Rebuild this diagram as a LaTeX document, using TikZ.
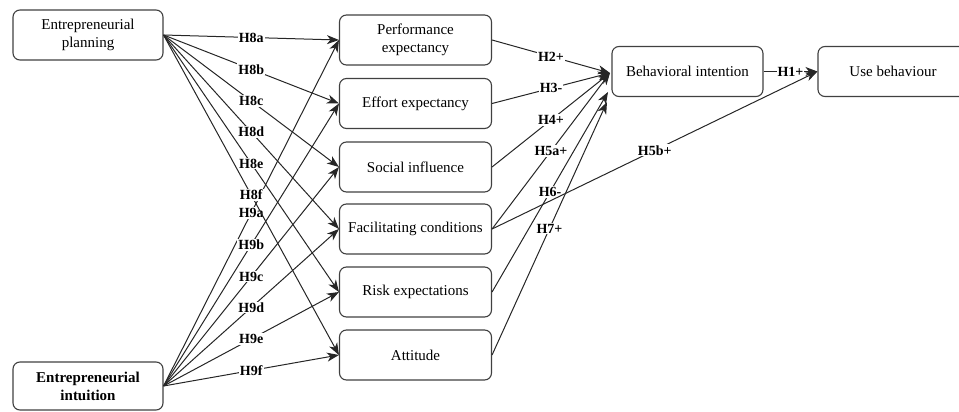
\documentclass[tikz,border=0pt]{standalone}
\usepackage{fontspec}
\setmainfont{Liberation Serif}
\usetikzlibrary{arrows.meta}

\begin{document}
\begin{tikzpicture}[x=1pt, y=-1pt, >={Stealth[length=12pt, width=9pt, inset=3.5pt]},
    construct/.style={draw=black!75, line width=1.1pt, rounded corners=7pt, align=center,
        minimum width=152pt, minimum height=50pt, inner sep=2pt,
        font=\fontsize{15}{18}\selectfont},
    path/.style={->, line width=1pt, draw=black!85},
    hyp/.style={midway, fill=white, inner sep=1pt, font=\fontsize{14}{15}\selectfont\bfseries}]
    \useasboundingbox (0,0) rectangle (959,412);
    % Antecedents
    \node[construct, minimum width=150pt] (plan) at (88,35) {Entrepreneurial\\planning};
    \node[construct, minimum width=150pt, minimum height=48pt, font=\fontsize{15}{18}\selectfont\bfseries] (intu) at (88,386) {Entrepreneurial\\intuition};
    % UTAUT constructs
    \node[construct] (pe) at (415.5,40) {Performance\\expectancy};
    \node[construct] (ee) at (415.5,103.5) {Effort expectancy};
    \node[construct] (si) at (415.5,167) {Social influence};
    \node[construct] (fc) at (415.5,229) {Facilitating conditions};
    \node[construct] (re) at (415.5,292) {Risk expectations};
    \node[construct] (at) at (415.5,355) {Attitude};
    % Outcomes
    \node[construct, minimum width=151pt] (bi) at (687.5,71.5) {Behavioral intention};
    \node[construct, minimum width=150pt] (ub) at (893,71.5) {Use behaviour};
    \coordinate (bitip) at (610,73);
    \coordinate (bitipb) at (608,92);
    \coordinate (bitipc) at (607,102);
    % Planning and intuition paths
    \foreach \t/\l in {pe/a, ee/b, si/c, fc/d, re/e, at/f} {
        \draw[path] (plan.east) -- (\t.west) node[hyp] {H8\l};
        \draw[path] (intu.east) -- (\t.west) node[hyp] {H9\l};
    }
    % Paths to behavioural intention
    \draw[path] (pe.east) -- (bitip) node[hyp] {H2+};
    \draw[path] (ee.east) -- (bitip) node[hyp] {H3-};
    \draw[path] (si.east) -- (bitip) node[hyp] {H4+};
    \draw[path] (fc.east) -- (bitip) node[hyp] {H5a+};
    \draw[path] (re.east) -- (bitipb) node[hyp] {H6-};
    \draw[path] (at.east) -- (bitipc) node[hyp] {H7+};
    \draw[path] (fc.east) -- (ub.west) node[hyp] {H5b+};
    \draw[path] (bi.east) -- (ub.west) node[hyp] {H1+};
\end{tikzpicture}
\end{document}
